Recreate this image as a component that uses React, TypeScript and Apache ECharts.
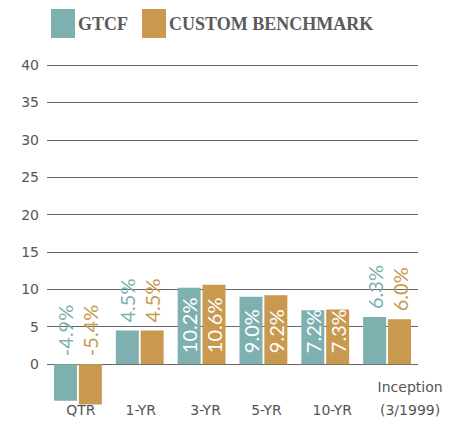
import React, { useEffect, useRef } from "react";
import * as echarts from "echarts";

const categories = ["QTR", "1-YR", "3-YR", "5-YR", "10-YR", "Inception\n(3/1999)"];
const gtcfValues = [-4.9, 4.5, 10.2, 9.0, 7.2, 6.3];
const benchValues = [-5.4, 4.5, 10.6, 9.2, 7.3, 6.0];
const seriesNames = ["GTCF", "CUSTOM BENCHMARK"];

const TEAL = "#7DB0AF";
const GOLD = "#C8994F";

// left padding used to mimic the letter-spaced label placement of the original
const labelShift: Record<string, number> = {
  "QTR": 6,
  "1-YR": 2,
  "3-YR": 8,
  "5-YR": 6,
  "10-YR": 14,
  "Inception\n(3/1999)": 46,
};

function buildData(values: number[], color: string) {
  return values.map((v) => {
    const outside = v < 7;
    return {
      value: v,
      label: outside
        ? { position: "top", color, distance: 8 }
        : { position: "insideBottom", color: "#ffffff", distance: 11 },
    };
  });
}

export default function App() {
  const ref = useRef<HTMLDivElement>(null);
  useEffect(() => {
    if (!ref.current) return;
    const chart = echarts.init(ref.current, undefined, { renderer: "svg" });
    const labelBase = {
      show: true,
      rotate: 90,
      align: "left",
      verticalAlign: "middle",
      fontFamily: "Lato",
      fontWeight: "normal",
      fontSize: 20,
      formatter: (p: any) => Number(p.value).toFixed(1) + "%",
    };
    const xLabelStyle = {
      verticalAlign: "bottom",
      lineHeight: 23,
      fontFamily: "DejaVu Sans",
      fontSize: 14,
      color: "#555555",
    };
    chart.setOption({
      animation: false,
      legend: {
        left: 46,
        top: 4,
        itemWidth: 24,
        itemHeight: 29,
        itemGap: 14,
        icon: "rect",
        textStyle: {
          fontFamily: "Liberation Serif",
          fontWeight: "bold",
          fontSize: 18,
          color: "#5a5a5a",
          padding: [0, 0, 0, -2],
        },
        data: seriesNames,
      },
      grid: { left: 47, right: 48, top: 65, bottom: 12, outerBoundsMode: "none", containLabel: false },
      xAxis: {
        type: "category",
        data: categories.map((c) => ({
          value: c,
          textStyle: { ...xLabelStyle, padding: [0, 0, 0, labelShift[c] || 0] },
        })),
        offset: 12,
        axisLine: { show: false, onZero: false },
        axisTick: { show: false },
        axisLabel: {
          ...xLabelStyle,
          margin: 0,
          interval: 0,
          hideOverlap: false,
        },
      },
      yAxis: {
        type: "value",
        min: -6,
        max: 40,
        splitNumber: 9,
        axisLine: { show: false },
        axisTick: { show: false },
        axisLabel: {
          margin: 8,
          fontFamily: "DejaVu Sans",
          fontSize: 14,
          color: "#555555",
          formatter: (v: number) => (v < 0 ? "" : String(v)),
        },
        splitLine: {
          lineStyle: {
            width: 1,
            color: [
              "rgba(0,0,0,0)",
              "rgba(0,0,0,0)",
              "#666666",
              "#666666",
              "#666666",
              "#666666",
              "#666666",
              "#666666",
              "#666666",
              "#666666",
              "#666666",
            ],
          },
        },
      },
      series: [
        {
          name: seriesNames[0],
          type: "bar",
          barWidth: 23,
          barGap: "8%",
          itemStyle: { color: TEAL },
          label: labelBase,
          data: buildData(gtcfValues, TEAL),
        },
        {
          name: seriesNames[1],
          type: "bar",
          barWidth: 23,
          barGap: "8%",
          itemStyle: { color: GOLD },
          label: labelBase,
          data: buildData(benchValues, GOLD),
        },
      ],
    });
    return () => chart.dispose();
  }, []);
  return <div ref={ref} style={{ width: 466, height: 421, position: "absolute", left: 0, top: 0 }} />;
}
